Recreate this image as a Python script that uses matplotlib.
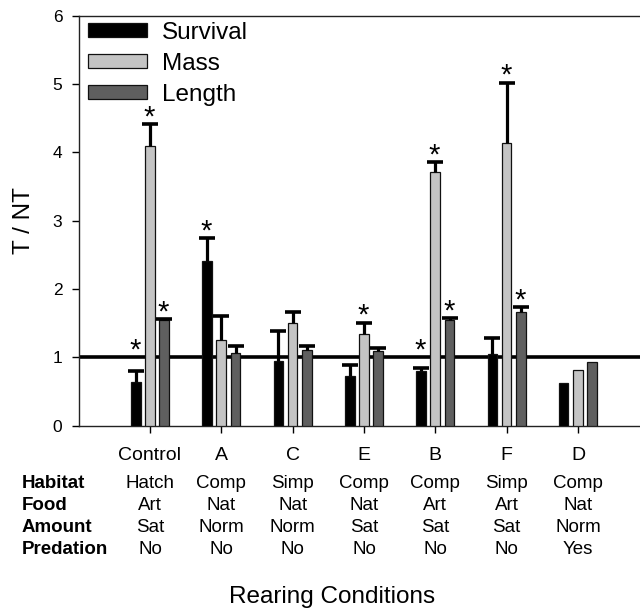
import numpy as np
import matplotlib
matplotlib.use("Agg")
import matplotlib.pyplot as plt
from matplotlib.patches import Patch

plt.rcParams['font.family'] = ['Liberation Sans', 'DejaVu Sans']

categories = ["Control", "A", "C", "E", "B", "F", "D"]
habitat = ["Hatch", "Comp", "Simp", "Comp", "Comp", "Simp", "Comp"]
food = ["Art", "Nat", "Nat", "Nat", "Art", "Art", "Nat"]
amount = ["Sat", "Norm", "Norm", "Sat", "Sat", "Sat", "Norm"]
predation = ["No", "No", "No", "No", "No", "No", "Yes"]
row_names = ["Habitat", "Food", "Amount", "Predation"]

survival = [0.64, 2.41, 0.95, 0.73, 0.80, 1.05, 0.63]
survival_err = [0.16, 0.33, 0.44, 0.16, 0.04, 0.24, np.nan]
mass = [4.09, 1.26, 1.51, 1.34, 3.72, 4.14, 0.82]
mass_err = [0.32, 0.34, 0.16, 0.17, 0.14, 0.88, np.nan]
length = [1.54, 1.06, 1.11, 1.09, 1.55, 1.67, 0.93]
length_err = [0.02, 0.10, 0.06, 0.04, 0.02, 0.06, np.nan]

survival_sig = [True, True, False, False, True, False, False]
mass_sig = [True, False, False, True, True, True, False]
length_sig = [True, False, False, False, True, True, False]

series = [
    ("Survival", survival, survival_err, survival_sig, "#000000"),
    ("Mass", mass, mass_err, mass_sig, "#c4c4c4"),
    ("Length", length, length_err, length_sig, "#5f5f5f"),
]

W, H = 640, 608
fig = plt.figure(figsize=(W / 100, H / 100), dpi=100)
ax_left, ax_top, ax_bottom = 79, 15.7, 425.7
ax = fig.add_axes([ax_left / W, (H - ax_bottom) / H, 1 - ax_left / W, (ax_bottom - ax_top) / H])

x = np.arange(len(categories))
offsets = [-0.2, 0.0, 0.2]
bw = 0.135

for (name, vals, errs, sig, col), off in zip(series, offsets):
    vals = np.array(vals, dtype=float)
    errs = np.array(errs, dtype=float)
    xs = x + off
    ax.bar(xs, vals, width=bw, color=col, edgecolor="#111111", linewidth=0.9, zorder=3)
    m = ~np.isnan(errs)
    ax.errorbar(xs[m], vals[m], yerr=[np.zeros(m.sum()), errs[m]], fmt="none",
                ecolor="black", elinewidth=2.3, capsize=0, zorder=4)
    ax.plot(xs[m], (vals + errs)[m], linestyle="none", marker="_", markersize=11,
            markeredgewidth=2.6, color="black", zorder=4)
    for xi, v, e, s in zip(xs, vals, errs, sig):
        if s:
            top = v + (0 if np.isnan(e) else e)
            base = max(top, 1.0)
            ax.annotate("*", (xi, base), xytext=(-0.5, -1), textcoords="offset points",
                        ha="center", va="baseline", fontsize=21, zorder=5)

ax.axhline(1.0, color="black", linewidth=2.6, zorder=2)

ax.set_ylim(0, 6)
ax.set_xlim(-0.995, 6.87)
ax.set_yticks(range(0, 7))
ax.set_yticklabels([str(i) for i in range(0, 7)], fontsize=12.5)
ax.set_xticks(x)
ax.set_xticklabels(categories, fontsize=14)
ax.tick_params(axis="y", direction="out", length=5, width=1, pad=7)
ax.tick_params(axis="x", direction="out", length=5, width=1, pad=10)
ax.spines["right"].set_visible(False)
for sp in ["left", "bottom", "top"]:
    ax.spines[sp].set_linewidth(1.0)
    ax.spines[sp].set_color("#222222")

fig.text(24 / W, 1 - 221 / H, "T / NT", rotation=90, ha="center", va="center", fontsize=17.5)
fig.text(332 / W, 1 - 603 / H, "Rearing Conditions", ha="center", va="baseline", fontsize=17.5)

def ax_frac(py):
    return (ax_bottom - py) / (ax_bottom - ax_top)

row_baselines = [488, 510, 532, 553.5]
rows = [habitat, food, amount, predation]
trans = ax.get_xaxis_transform()
for rname, vals, py in zip(row_names, rows, row_baselines):
    fig.text(22 / W, 1 - py / H, rname, ha="left", va="baseline", fontsize=13.5, fontweight="bold")
    for xi, v in zip(x, vals):
        ax.text(xi, ax_frac(py), v, transform=trans, ha="center", va="baseline",
                fontsize=13.5, clip_on=False)

handles = [Patch(facecolor=c, edgecolor="#111111", linewidth=0.9) for (_, _, _, _, c) in series]
labels = [s[0] for s in series]
ax.legend(handles, labels, loc="upper left", bbox_to_anchor=(9 / 561, 1 - 6 / 410),
          frameon=False, fontsize=17.5, handlelength=2.43, handleheight=0.49,
          handletextpad=0.62, labelspacing=0.37, borderpad=0, borderaxespad=0)

fig.savefig("out.png", dpi=100)
